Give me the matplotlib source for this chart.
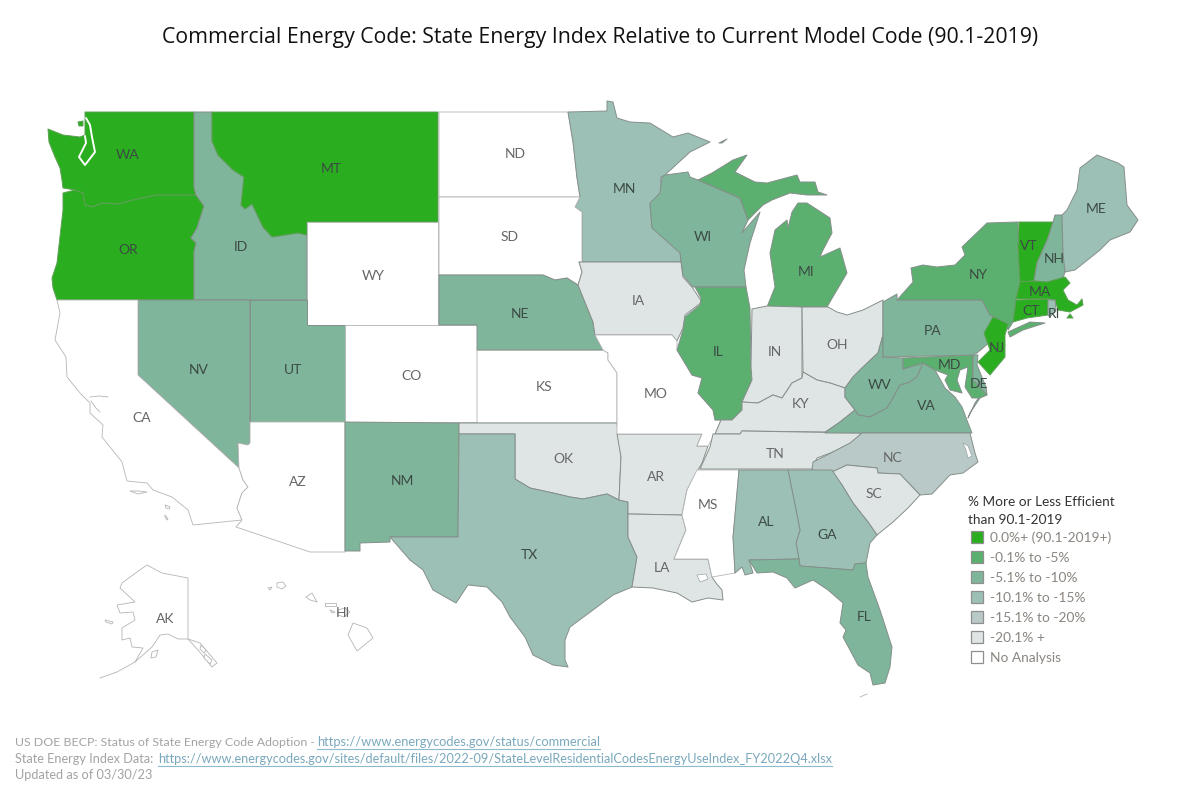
import matplotlib
matplotlib.use('Agg')
import matplotlib.pyplot as plt
from matplotlib.patches import Polygon, Rectangle

plt.rcParams['font.family'] = ['Lato', 'DejaVu Sans']

TITLE = 'Commercial Energy Code: State Energy Index Relative to Current Model Code (90.1-2019)'
LEGEND_TITLE = ['% More or Less Efficient', 'than 90.1-2019']
BINS = ['0.0%+ (90.1-2019+)', '-0.1% to -5%', '-5.1% to -10%', '-10.1% to -15%',
        '-15.1% to -20%', '-20.1% +', 'No Analysis']
BIN_COLORS = ['#2aae1f', '#5bb070', '#7fb59b', '#9cc0b5', '#b9c9c7', '#dfe5e5', '#ffffff']

# legend bin index per state
STATE_BIN = {
    'WA': 0, 'OR': 0, 'MT': 0, 'VT': 0, 'MA': 0, 'NJ': 0, 'CT': 0,
    'NY': 1, 'MI': 1, 'IL': 1, 'MD': 1,
    'ID': 2, 'NV': 2, 'UT': 2, 'NM': 2, 'NE': 2, 'WI': 2, 'PA': 2, 'WV': 2, 'VA': 2, 'FL': 2, 'DE': 2, 'NH': 2,
    'MN': 3, 'TX': 3, 'AL': 3, 'GA': 3, 'ME': 3, 'RI': 3,
    'NC': 4,
    'IA': 5, 'IN': 5, 'OH': 5, 'KY': 5, 'TN': 5, 'OK': 5, 'AR': 5, 'LA': 5, 'SC': 5,
    'ND': 6, 'SD': 6, 'WY': 6, 'CO': 6, 'KS': 6, 'MO': 6, 'CA': 6, 'AZ': 6, 'MS': 6, 'AK': 6, 'HI': 6,
}

# state outlines in image pixels
WA = [(85,112),(194,112),(194,187),(196,195),(157,195),(137,199),(118,204),(102,203),(93,207),(85,205),(83,193),(75,190),(63,188),(62,180),(60,168),(55,157),(49,142),(48,129),(63,135),(80,137),(85,135)]
WA_ISLAND = [(78,122),(83,121),(83,126),(79,126)]
OR = [(196,195),(204,206),(197,228),(191,238),(196,243),(194,252),(194,300),(57,300),(53,288),(52,278),(57,263),(63,210),(63,193),(75,190),(83,193),(85,205),(93,207),(102,203),(118,204),(137,199),(157,195)]
ID = [(194,112),(212,112),(212,141),(218,155),(233,170),(244,177),(241,205),(245,209),(252,204),(263,227),(272,237),(298,233),(307,235),(307,300),(194,300),(194,252),(196,243),(191,238),(197,228),(204,206),(196,195),(194,187)]
MT = [(212,112),(438,112),(438,222),(307,222),(307,235),(298,233),(272,237),(263,227),(252,204),(245,209),(241,205),(244,177),(233,170),(218,155),(212,141)]
WY = [(307,222),(438,222),(438,325),(307,325)]
UT = [(250,300),(307,300),(307,325),(345,325),(345,422),(250,422)]
NV = [(138,300),(250,300),(250,443),(248,445),(238,443),(239,468),(138,375)]
CA = [(57,300),(138,300),(138,375),(239,468),(243,480),(248,487),(242,493),(237,508),(242,520),(193,525),(188,510),(172,497),(153,490),(147,483),(127,481),(122,462),(102,437),(103,425),(90,413),(90,403),(80,393),(67,377),(66,357),(55,340),(60,313)]
CA_ISLAND_1 = [(130,491),(138,491),(147,492),(138,494)]
CA_ISLAND_2 = [(165,505),(170,507),(169,509),(166,508)]
CA_ISLAND_3 = [(165,515),(168,519),(167,520),(165,517)]
AZ = [(250,422),(345,422),(345,552),(310,552),(236,527),(242,520),(237,508),(242,493),(248,487),(243,480),(239,468),(238,443),(248,445),(250,443)]
CO = [(345,325),(477,325),(477,422),(345,422)]
KS = [(477,350),(603,350),(608,353),(608,360),(617,373),(617,423),(477,423)]
NM = [(345,422),(459,423),(458,537),(390,537),(390,542),(360,543),(360,551),(345,551)]
OK = [(459,423),(617,423),(621,457),(619,500),(607,494),(583,499),(570,497),(553,493),(530,488),(515,479),(515,434),(459,434)]
TX = [(459,434),(515,434),(515,479),(530,488),(553,493),(570,497),(583,499),(607,494),(619,500),(628,502),(628,537),(637,557),(632,587),(613,595),(593,610),(570,627),(565,640),(565,660),(568,667),(553,665),(533,655),(525,637),(510,617),(502,602),(487,587),(468,585),(456,603),(433,590),(423,570),(410,560),(390,537),(458,537)]
AR = [(617,434),(702,434),(697,446),(708,446),(702,463),(687,490),(682,515),(628,514),(628,502),(619,500),(621,457)]
LA = [(628,514),(682,515),(686,530),(674,559),(708,559),(712,577),(716,583),(722,590),(723,600),(708,598),(692,602),(677,593),(653,588),(632,587),(637,557),(628,537)]
MS = [(697,470),(739,470),(733,537),(735,573),(712,577),(708,559),(674,559),(686,530),(682,515),(687,490)]
ND = [(439,112),(568,112),(573,142),(577,178),(580,197),(439,197)]
MN = [(568,112),(607,111),(607,101),(613,102),(617,118),(630,122),(650,123),(673,137),(688,133),(710,142),(690,152),(665,175),(661,177),(661,193),(650,205),(652,227),(680,250),(681,262),(582,262),(582,212),(575,207),(580,197),(577,178),(573,142)]
SD = [(439,197),(580,197),(575,207),(582,212),(582,262),(579,262),(582,272),(578,285),(567,278),(555,280),(543,275),(439,275)]
NE = [(439,275),(543,275),(555,280),(567,278),(578,285),(593,322),(595,335),(603,350),(477,350),(477,325),(439,325)]
IA = [(579,262),(681,262),(683,277),(692,287),(702,302),(685,315),(683,328),(677,341),(672,335),(595,335),(593,322),(578,285),(582,272)]
MO = [(595,335),(672,335),(677,341),(677,350),(692,375),(702,378),(698,393),(713,410),(715,420),(721,420),(715,434),(708,446),(697,446),(702,434),(617,434),(617,373),(608,360),(608,353),(603,350)]
WI = [(665,175),(688,172),(690,177),(698,180),(740,198),(748,220),(742,233),(760,212),(750,243),(744,270),(746,287),(693,287),(683,275),(680,253),(652,228),(650,203),(660,193),(662,177)]
MI_UPPER = [(698,180),(712,173),(733,160),(747,155),(735,172),(755,182),(767,183),(797,175),(800,182),(815,182),(818,192),(827,195),(807,195),(790,193),(772,200),(763,205),(748,220),(740,198)]
MI = [(798,203),(807,203),(830,218),(832,233),(823,250),(820,257),(840,248),(847,273),(837,290),(827,307),(767,307),(775,287),(770,253),(775,230),(787,220),(788,228),(792,212)]
MI_ISLE_ROYALE = [(719,143),(727,139),(722,143)]
IL = [(695,287),(746,287),(750,308),(751,367),(752,380),(742,402),(742,410),(732,420),(715,420),(713,410),(698,393),(702,378),(692,375),(677,350),(683,330),(685,317),(700,305),(701,298)]
IN = [(752,309),(767,306),(802,307),(802,378),(792,383),(782,398),(773,395),(758,403),(742,402),(752,380),(751,367)]
OH = [(802,307),(828,307),(837,312),(847,315),(863,310),(883,300),(883,335),(878,353),(863,367),(853,377),(845,388),(830,383),(817,380),(803,372)]
KY = [(803,372),(817,380),(830,383),(845,388),(845,397),(855,410),(840,422),(825,432),(742,431),(740,434),(715,434),(721,420),(732,420),(742,410),(742,402),(758,403),(773,395),(782,398),(792,383),(802,378)]
TN = [(713,434),(740,434),(742,431),(862,433),(853,442),(833,452),(817,458),(812,469),(700,469),(710,447)]
WV = [(883,335),(883,357),(903,358),(903,369),(923,363),(917,377),(908,383),(900,385),(893,398),(887,408),(870,417),(858,415),(855,410),(845,397),(845,388),(853,377),(863,367),(878,353)]
VA = [(855,410),(858,415),(870,417),(887,408),(893,398),(900,385),(908,383),(917,377),(923,363),(935,370),(945,388),(955,397),(962,407),(968,423),(972,433),(825,433),(840,422)]
VA_SHORE = [(982,393),(975,403),(968,418),(970,413),(980,398)]
MD = [(903,358),(973,355),(973,380),(987,395),(980,398),(972,398),(965,387),(968,367),(960,370),(957,380),(962,393),(950,390),(945,380),(948,375),(935,370),(923,363),(903,369)]
DE = [(973,355),(978,355),(977,365),(986,387),(987,395),(973,380)]
PA = [(883,302),(897,294),(897,300),(982,300),(990,315),(1006,323),(1002,337),(990,342),(977,353),(973,355),(883,357)]
NY = [(897,300),(913,282),(911,268),(923,265),(937,267),(955,265),(965,255),(962,247),(987,223),(1018,222),(1018,247),(1020,282),(1016,300),(1013,322),(1008,330),(1006,323),(990,315),(982,300)]
NY_LI = [(1008,332),(1030,322),(1045,323),(1023,330),(1010,337)]
VT = [(1019,222),(1053,222),(1048,238),(1037,263),(1034,281),(1020,282),(1018,247)]
NH = [(1053,222),(1055,215),(1062,215),(1063,253),(1065,272),(1063,278),(1047,282),(1034,281),(1037,263),(1048,238)]
ME = [(1062,215),(1067,210),(1077,190),(1080,168),(1097,155),(1118,163),(1124,167),(1127,205),(1138,220),(1130,232),(1110,240),(1100,250),(1085,262),(1075,270),(1065,272),(1063,253)]
MA = [(1020,282),(1034,281),(1047,282),(1065,277),(1070,283),(1063,290),(1068,300),(1077,305),(1082,299),(1083,305),(1070,312),(1058,310),(1055,300),(1048,299),(1016,299)]
MA_ISLAND = [(1070,314),(1073,318),(1067,318)]
CT = [(1016,300),(1048,299),(1048,315),(1027,318),(1013,322)]
RI = [(1048,300),(1055,300),(1056,310),(1050,317),(1048,315)]
NJ = [(993,317),(1008,324),(1005,335),(1005,357),(990,375),(978,362),(990,350),(984,333)]
NC = [(862,433),(970,433),(975,453),(978,462),(963,473),(950,475),(932,494),(920,495),(900,474),(878,473),(877,468),(847,465),(832,472),(812,470),(813,462),(827,455),(850,443)]
SC = [(832,472),(847,465),(877,468),(878,473),(900,474),(920,495),(908,508),(893,522),(877,535),(868,522),(853,503),(842,485)]
GA = [(788,470),(832,470),(842,485),(853,503),(868,522),(877,535),(870,543),(866,563),(855,564),(853,570),(800,566),(796,543),(800,530)]
AL = [(739,470),(788,470),(800,530),(796,543),(799,559),(749,560),(753,573),(745,575),(742,567),(735,573),(733,537)]
FL = [(749,560),(799,559),(800,566),(853,570),(855,564),(866,563),(868,577),(880,610),(892,647),(890,667),(885,683),(873,685),(870,673),(858,665),(843,637),(846,630),(840,623),(843,603),(828,590),(813,580),(795,588),(787,578),(773,572),(757,573)]
AK = [(147,565),(162,573),(188,578),(188,639),(178,639),(168,634),(160,635),(152,647),(135,662),(143,648),(132,647),(130,638),(122,640),(122,628),(135,620),(133,612),(120,613),(117,605),(135,602),(120,588),(122,583),(137,572)]
AK_PANHANDLE = [(188,639),(200,643),(217,663),(212,667),(198,650)]
AK_ISLES_1 = [(201,645),(206,650),(204,653),(200,649)]
AK_ISLES_2 = [(205,654),(212,660),(210,664),(204,658)]
AK_KODIAK = [(152,652),(158,650),(156,657),(151,658)]
AK_NUNIVAK = [(105,620),(113,622),(112,624),(106,622)]
HI_BIG = [(353,623),(367,628),(373,638),(357,651),(348,635)]
HI_MAUI = [(338,610),(345,608),(350,612),(344,617),(338,615)]
HI_MOLOKAI = [(325,603),(336,603),(336,606),(325,606)]
HI_LANAI = [(330,610),(335,612),(332,613)]
HI_OAHU = [(312,593),(317,602),(310,600),(306,597)]
HI_KAUAI = [(277,583),(283,582),(286,586),(282,589),(277,587)]
HI_NIIHAU = [(268,588),(272,587),(270,590)]

# (state, outline) pairs, extra parts share the state's colour
SHAPES = [('WA',WA),('WA',WA_ISLAND),('OR',OR),('ID',ID),('MT',MT),('WY',WY),('UT',UT),('NV',NV),('CA',CA),('CA',CA_ISLAND_1),('CA',CA_ISLAND_2),('CA',CA_ISLAND_3),
          ('AZ',AZ),('CO',CO),('KS',KS),('NM',NM),('OK',OK),('TX',TX),('AR',AR),('LA',LA),('MS',MS),('ND',ND),('MN',MN),('SD',SD),('NE',NE),('IA',IA),('MO',MO),('WI',WI),
          ('MI',MI_UPPER),('MI',MI),('MI',MI_ISLE_ROYALE),('IL',IL),('IN',IN),('OH',OH),('KY',KY),('TN',TN),('WV',WV),('VA',VA),('VA',VA_SHORE),('MD',MD),('DE',DE),
          ('PA',PA),('NY',NY),('NY',NY_LI),('VT',VT),('NH',NH),('ME',ME),('MA',MA),('MA',MA_ISLAND),('CT',CT),('RI',RI),('NJ',NJ),
          ('NC',NC),('SC',SC),('GA',GA),('AL',AL),('FL',FL),('AK',AK),('AK',AK_PANHANDLE),('AK',AK_ISLES_1),('AK',AK_ISLES_2),('AK',AK_KODIAK),('AK',AK_NUNIVAK),
          ('HI',HI_BIG),('HI',HI_MAUI),('HI',HI_MOLOKAI),('HI',HI_LANAI),('HI',HI_OAHU),('HI',HI_KAUAI),('HI',HI_NIIHAU)]

# water drawn over the states
PUGET_SOUND = [(86,118),(90,125),(92,137),(95,152),(85,165),(79,157),(86,143),(85,136)]
LAKE_PONTCHARTRAIN = [(697,575),(706,574),(708,579),(700,582)]
PAMLICO_SOUND = [(963,443),(968,446),(972,456),(968,458),(966,450)]
# thin grey lines
SF_BAY = [(90,397),(99,396),(108,397)]
SF_BAY_2 = [(91,401),(96,408),(100,412)]
AK_ARC = [(135,662),(117,672),(100,678)]
FL_KEYS = [(860,697),(867,694)]

LABEL_POS = {
    'WA':(128,155),'OR':(128,250),'MT':(331,169),'ID':(241,247),'WY':(373,276),'NV':(199,370),'UT':(293,370),'CA':(142,418),
    'AZ':(298,482),'CO':(412,376),'NM':(402,481),'ND':(515,154),'SD':(510,237),'NE':(520,314),'KS':(544,387),'OK':(563,459),
    'TX':(529,555),'MN':(624,189),'IA':(638,301),'MO':(656,394),'AR':(656,477),'LA':(662,568),'WI':(703,237),'IL':(718,352),
    'MS':(708,505),'MI':(806,272),'IN':(775,352),'OH':(837,345),'KY':(801,404),'TN':(775,454),'AL':(766,522),'GA':(827,535),
    'FL':(864,617),'SC':(874,494),'NC':(893,458),'VA':(926,406),'WV':(880,385),'PA':(933,331),'NY':(978,275),'VT':(1029,246),
    'NH':(1054,259),'ME':(1096,209),'MA':(1040,292),'CT':(1031,311),'RI':(1054,314),'NJ':(997,348),'MD':(949,365),'DE':(979,384),
    'AK':(165,619),'HI':(343,613),
}

FOOTER = [('US DOE BECP: Status of State Energy Code Adoption - ', 'https://www.energycodes.gov/status/commercial', 317, 742, 8.95, 9.25),
          ('State Energy Index Data: ', 'https://www.energycodes.gov/sites/default/files/2022-09/StateLevelResidentialCodesEnergyUseIndex_FY2022Q4.xlsx', 158, 759, 9.2, 9.2)]
UPDATED = 'Updated as of 03/30/23'

fig = plt.figure(figsize=(12, 8), dpi=100)
ax = fig.add_axes([0, 0, 1, 1])
ax.set_xlim(0, 1200)
ax.set_ylim(800, 0)
ax.axis('off')

for state, outline in SHAPES:
    bin_idx = STATE_BIN[state]
    edge = '#b5b5b5' if bin_idx == 6 else '#858f8a'
    if bin_idx == 0:
        edge = '#5f9f58'
    ax.add_patch(Polygon(outline, closed=True, facecolor=BIN_COLORS[bin_idx], edgecolor=edge,
                         linewidth=0.6 if bin_idx == 6 else 0.7, joinstyle='round'))

ax.plot(*zip(*PUGET_SOUND), color='white', linewidth=1.4, solid_capstyle='round')
for water in [LAKE_PONTCHARTRAIN, PAMLICO_SOUND]:
    ax.add_patch(Polygon(water, closed=True, facecolor='white', edgecolor='#9aa5a3', linewidth=0.5))
for line in [SF_BAY, SF_BAY_2, AK_ARC, FL_KEYS]:
    ax.plot(*zip(*line), color='#b5b5b5', linewidth=0.6)

for state, (x, y) in LABEL_POS.items():
    dark = STATE_BIN[state] < 4
    ax.text(x, y, state, ha='center', va='center', fontsize=10, color='#3c4a44' if dark else '#666666')

ax.text(600, 37, TITLE, ha='center', va='center', fontsize=15.3, color='#111111', family=['Open Sans', 'DejaVu Sans'])

# legend
for i, line in enumerate(LEGEND_TITLE):
    ax.text(968, 502 + i * 18, line, va='center', fontsize=9.8, color='#333333')
for i, (label, color) in enumerate(zip(BINS, BIN_COLORS)):
    y = 537 + i * 20
    ax.add_patch(Rectangle((971, y - 6), 12, 12, facecolor=color, edgecolor='#8f8f8f', linewidth=0.9))
    ax.text(990, y + 1, label, va='center', fontsize=9.9, color='#8a8580')

# footer, links are underlined by hand
fig.canvas.draw()
renderer = fig.canvas.get_renderer()
for lead, link, link_x, y, lead_size, link_size in FOOTER:
    ax.text(15, y, lead, va='center', fontsize=lead_size, color='#a3a3a3')
    t = ax.text(link_x, y, link, va='center', fontsize=link_size, color='#7aa8bd')
    box = t.get_window_extent(renderer)
    ax.plot([box.x0, box.x1], [y + 7, y + 7], color='#8dbad0', linewidth=0.8)
ax.text(15, 775, UPDATED, va='center', fontsize=9.2, color='#a3a3a3')

fig.savefig('out.png', dpi=100)
